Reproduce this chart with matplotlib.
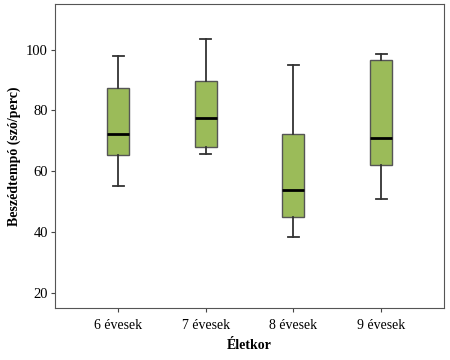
import matplotlib
matplotlib.use("Agg")
import matplotlib.pyplot as plt

groups = ["6 évesek", "7 évesek", "8 évesek", "9 évesek"]
whislo = [55.2, 65.8, 38.4, 50.9]
q1 = [65.3, 68.1, 45.0, 62.2]
med = [72.1, 77.6, 54.0, 71.1]
q3 = [87.4, 89.7, 72.1, 96.7]
whishi = [97.8, 103.5, 94.8, 98.6]

plt.rcParams['font.family'] = ['Liberation Serif', 'DejaVu Serif']

stats = []
for i in range(len(groups)):
    stats.append({'label': groups[i], 'whislo': whislo[i], 'q1': q1[i],
                  'med': med[i], 'q3': q3[i], 'whishi': whishi[i], 'fliers': []})

fig = plt.figure(figsize=(4.5, 3.6), dpi=100)
ax = fig.add_axes([0.122, 0.144, 0.865, 0.845])

ax.bxp(stats, positions=[1, 2, 3, 4], widths=0.25, patch_artist=True,
       showfliers=False,
       boxprops=dict(facecolor='#9bbb59', edgecolor='#555555', linewidth=1),
       medianprops=dict(color='black', linewidth=2),
       whiskerprops=dict(color='#333333', linewidth=1.3),
       capprops=dict(color='#333333', linewidth=1.3))

ax.set_xlim(0.28, 4.72)
ax.set_ylim(15, 115)
ax.set_yticks([20, 40, 60, 80, 100])
ax.set_xticks([1, 2, 3, 4])
ax.set_xticklabels(groups)
ax.tick_params(axis='x', labelsize=10, length=3, color='#444444', pad=5)
ax.tick_params(axis='y', labelsize=10.5, length=3, color='#444444', pad=2)
for s in ax.spines.values():
    s.set_color('#555555')

ax.set_xlabel("Életkor", fontsize=10, fontweight='bold', labelpad=5)
ax.set_ylabel("Beszédtempó (szó/perc)", fontsize=10, fontweight='bold')

fig.savefig("out.png", dpi=100)
